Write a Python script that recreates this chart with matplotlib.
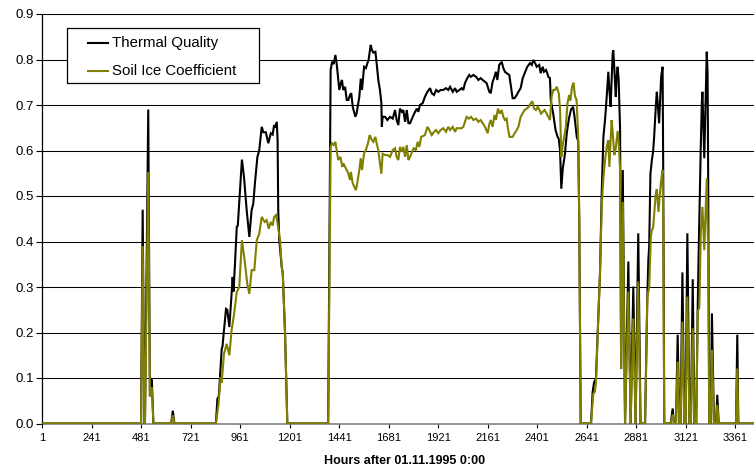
import matplotlib
matplotlib.use("Agg")
import matplotlib.pyplot as plt
from matplotlib.lines import Line2D
from matplotlib.patches import Rectangle

plt.rcParams["font.family"] = ["Liberation Sans", "DejaVu Sans"]

# Thermal quality: hour after 01.11.1995 0:00 and value
tq_hours = [
    1, 481, 489, 497, 500, 516, 524, 533, 541,
    627, 635, 643,
    844, 851, 858, 872, 876, 882, 893, 899, 909, 920, 925, 929, 936, 945, 950, 961, 970, 980,
    993, 1006, 1017, 1025, 1033, 1045, 1054, 1066, 1074, 1086, 1098, 1110, 1119, 1126, 1130,
    1139, 1143, 1146, 1151, 1163, 1168, 1179, 1190,
    1388, 1400, 1407, 1415, 1423, 1429, 1437, 1442, 1449, 1455, 1461, 1470, 1478, 1486, 1494,
    1500, 1507, 1520, 1526, 1539, 1546, 1552, 1562, 1571, 1578, 1584, 1594, 1600, 1607, 1617,
    1623, 1631, 1639, 1646, 1648, 1652, 1664, 1675, 1688, 1701, 1712, 1720, 1728, 1736, 1745,
    1752, 1761, 1769, 1777, 1785, 1798, 1809, 1818, 1825, 1833, 1846, 1857, 1869, 1882, 1890,
    1901, 1911, 1922, 1933, 1946, 1959, 1970, 1979, 1992, 2003, 2011, 2024, 2035, 2043, 2051,
    2062, 2072, 2079, 2092, 2105, 2116, 2127, 2137, 2148, 2156, 2169, 2176, 2185, 2192, 2201,
    2208, 2217, 2229, 2237, 2245, 2253, 2266, 2274, 2282, 2292, 2302, 2310, 2321, 2331, 2337,
    2347, 2353, 2360, 2366, 2375, 2382, 2391, 2399, 2411, 2418, 2428, 2434, 2444, 2450, 2455,
    2463, 2467, 2479, 2490, 2500, 2506, 2512, 2518, 2525, 2535, 2545, 2555, 2565, 2575, 2582,
    2593, 2600, 2605, 2612,
    2662, 2670, 2677, 2686, 2697, 2706, 2714, 2722, 2730, 2738, 2746, 2751, 2757, 2762, 2767,
    2770, 2775, 2782, 2786, 2791, 2796, 2803, 2808, 2816, 2827, 2843, 2854, 2867, 2878, 2891,
    2902,
    2924, 2935, 2940, 2944, 2950, 2957, 2963, 2968, 2976, 2981, 2986, 2992, 2996, 3002, 3009,
    3012, 3017,
    3048, 3058, 3064, 3074, 3082, 3090, 3096, 3105, 3114, 3120, 3129, 3139, 3146, 3155, 3163,
    3172, 3179, 3184, 3194, 3199, 3202, 3206, 3211, 3216, 3223, 3227, 3230, 3235, 3242, 3248,
    3258, 3268, 3274, 3281, 3365, 3371, 3376, 3452,
]
tq_values = [
    0, 0, 0.47, 0, 0, 0.69, 0.06, 0.10, 0,
    0, 0.028, 0,
    0, 0.054, 0.06, 0.164, 0.17, 0.20, 0.252, 0.25, 0.212, 0.285, 0.322, 0.29, 0.348, 0.432,
    0.435, 0.513, 0.580, 0.542, 0.469, 0.410, 0.469, 0.483, 0.528, 0.586, 0.601, 0.652, 0.64,
    0.64, 0.616, 0.638, 0.635, 0.656, 0.65, 0.663, 0.62, 0.469, 0.403, 0.344, 0.33, 0.198, 0,
    0, 0.777, 0.795, 0.79, 0.810, 0.792, 0.755, 0.733, 0.748, 0.755, 0.733, 0.740, 0.711,
    0.711, 0.722, 0.726, 0.696, 0.674, 0.682, 0.718, 0.758, 0.733, 0.784, 0.781, 0.792, 0.799,
    0.832, 0.821, 0.815, 0.817, 0.792, 0.755, 0.733, 0.704, 0.652, 0.674, 0.674, 0.667, 0.674,
    0.670, 0.689, 0.667, 0.656, 0.692, 0.685, 0.689, 0.663, 0.689, 0.660, 0.660, 0.674, 0.685,
    0.692, 0.685, 0.700, 0.704, 0.718, 0.729, 0.737, 0.726, 0.722, 0.733, 0.729, 0.733, 0.733,
    0.737, 0.733, 0.740, 0.729, 0.737, 0.729, 0.733, 0.737, 0.733, 0.748, 0.759, 0.766, 0.762,
    0.766, 0.762, 0.755, 0.759, 0.755, 0.751, 0.748, 0.729, 0.726, 0.751, 0.759, 0.773, 0.755,
    0.788, 0.795, 0.781, 0.773, 0.770, 0.766, 0.740, 0.715, 0.715, 0.722, 0.729, 0.737, 0.759,
    0.766, 0.777, 0.784, 0.788, 0.792, 0.788, 0.799, 0.792, 0.784, 0.788, 0.770, 0.784, 0.773,
    0.777, 0.770, 0.762, 0.759, 0.71, 0.68, 0.645, 0.63, 0.625, 0.60, 0.516, 0.56, 0.59, 0.64,
    0.67, 0.69, 0.696, 0.675, 0.63, 0.62, 0.447, 0,
    0, 0.07, 0.09, 0.10, 0.227, 0.337, 0.51, 0.63, 0.667, 0.718, 0.773, 0.733, 0.696, 0.755,
    0.814, 0.82, 0.78, 0.718, 0.76, 0.784, 0.755, 0.645, 0.12, 0.557, 0, 0.356, 0, 0.301, 0,
    0.418, 0,
    0, 0.279, 0.36, 0.389, 0.549, 0.579, 0.598, 0.63, 0.696, 0.729, 0.70, 0.66, 0.70, 0.762,
    0.784, 0.557, 0,
    0, 0.033, 0, 0, 0.195, 0, 0, 0.332, 0, 0, 0.418, 0, 0, 0.317, 0,
    0, 0.249, 0.381, 0.608, 0.704, 0.729, 0.667, 0.583, 0.682, 0.817, 0.770, 0.535, 0, 0, 0.242,
    0, 0, 0.063, 0, 0, 0.195, 0, 0,
]

# Soil ice coefficient: hour after 01.11.1995 0:00 and value
ice_hours = [
    1, 481, 489, 497, 500, 516, 524, 533, 541,
    627, 635, 643,
    844, 856, 867, 872, 883, 896, 909, 920, 932, 945, 957, 970, 983, 996, 1006, 1017, 1030,
    1042, 1054, 1066, 1080, 1090, 1100, 1110, 1119, 1126, 1135, 1141, 1155, 1163, 1168, 1179,
    1190,
    1388, 1400, 1407, 1415, 1423, 1429, 1437, 1447, 1457, 1461, 1470, 1478, 1486, 1494, 1498,
    1507, 1522, 1526, 1539, 1546, 1552, 1562, 1571, 1581, 1589, 1600, 1607, 1617, 1623, 1631,
    1639, 1646, 1652, 1664, 1675, 1688, 1701, 1712, 1720, 1728, 1736, 1745, 1752, 1761, 1769,
    1777, 1785, 1792, 1803, 1813, 1822, 1830, 1839, 1857, 1869, 1878, 1890, 1901, 1911, 1922,
    1933, 1946, 1959, 1970, 1979, 1992, 2003, 2011, 2024, 2035, 2043, 2051, 2059, 2070, 2081,
    2092, 2105, 2116, 2127, 2137, 2148, 2161, 2168, 2176, 2185, 2194, 2201, 2211, 2220, 2229,
    2237, 2245, 2253, 2258, 2267, 2282, 2292, 2302, 2310, 2321, 2330, 2340, 2350, 2360, 2370,
    2378, 2386, 2395, 2404, 2412, 2420, 2428, 2437, 2447, 2455, 2463, 2471, 2479, 2487, 2496,
    2506, 2512, 2518, 2525, 2532, 2540, 2548, 2556, 2562, 2570, 2577, 2584, 2592, 2600, 2605,
    2612,
    2662, 2673, 2681, 2686, 2697, 2706, 2714, 2722, 2730, 2738, 2746, 2751, 2757, 2762, 2767,
    2775, 2782, 2791, 2796, 2803, 2808, 2816, 2827, 2843, 2854, 2867, 2878, 2891, 2902,
    2924, 2935, 2944, 2952, 2957, 2963, 2976, 2981, 2989, 2995, 3002, 3009, 3012, 3017,
    3048, 3058, 3064, 3074, 3082, 3090, 3096, 3105, 3114, 3120, 3129, 3139, 3146, 3155, 3163,
    3172, 3179, 3187, 3194, 3202, 3206, 3211, 3218, 3223, 3230, 3235, 3242, 3248, 3258, 3268,
    3274, 3281, 3365, 3371, 3376, 3452,
]
ice_values = [
    0, 0, 0.39, 0, 0, 0.553, 0.06, 0.08, 0,
    0, 0.018, 0,
    0, 0.04, 0.102, 0.09, 0.153, 0.175, 0.150, 0.205, 0.241, 0.289, 0.300, 0.403, 0.359, 0.307,
    0.285, 0.337, 0.337, 0.403, 0.417, 0.454, 0.443, 0.447, 0.428, 0.443, 0.435, 0.454, 0.458,
    0.445, 0.403, 0.344, 0.33, 0.198, 0,
    0, 0.608, 0.616, 0.612, 0.619, 0.601, 0.579, 0.586, 0.564, 0.572, 0.564, 0.557, 0.549,
    0.535, 0.553, 0.528, 0.513, 0.520, 0.557, 0.583, 0.557, 0.594, 0.601, 0.616, 0.634, 0.623,
    0.619, 0.630, 0.616, 0.601, 0.572, 0.549, 0.593, 0.590, 0.590, 0.586, 0.601, 0.605, 0.586,
    0.579, 0.608, 0.597, 0.608, 0.586, 0.612, 0.579, 0.586, 0.594, 0.605, 0.601, 0.619, 0.608,
    0.630, 0.634, 0.652, 0.645, 0.634, 0.641, 0.645, 0.638, 0.645, 0.649, 0.641, 0.652, 0.645,
    0.652, 0.641, 0.649, 0.649, 0.649, 0.652, 0.663, 0.674, 0.670, 0.674, 0.667, 0.670, 0.663,
    0.667, 0.660, 0.652, 0.638, 0.656, 0.667, 0.652, 0.678, 0.667, 0.692, 0.681, 0.689, 0.674,
    0.667, 0.670, 0.652, 0.630, 0.630, 0.638, 0.645, 0.652, 0.674, 0.681, 0.689, 0.692, 0.696,
    0.704, 0.708, 0.692, 0.689, 0.696, 0.689, 0.681, 0.685, 0.689, 0.681, 0.674, 0.667, 0.718,
    0.733, 0.733, 0.740, 0.725, 0.69, 0.586, 0.613, 0.63, 0.652, 0.704, 0.722, 0.71, 0.740,
    0.749, 0.72, 0.711, 0.63, 0.447, 0,
    0, 0.065, 0.07, 0.09, 0.227, 0.337, 0.476, 0.54, 0.579, 0.608, 0.623, 0.564, 0.62, 0.667,
    0.64, 0.59, 0.605, 0.643, 0.62, 0.557, 0.12, 0.487, 0, 0.290, 0, 0.231, 0, 0.312, 0,
    0, 0.279, 0.30, 0.411, 0.425, 0.43, 0.505, 0.515, 0.465, 0.50, 0.535, 0.557, 0.45, 0,
    0, 0.02, 0, 0, 0.136, 0, 0, 0.224, 0, 0, 0.279, 0, 0, 0.209, 0,
    0, 0.246, 0.255, 0.418, 0.476, 0.433, 0.381, 0.476, 0.539, 0.374, 0, 0, 0.162, 0, 0,
    0.041, 0, 0, 0.121, 0, 0,
]

x_tick_labels = [1, 241, 481, 721, 961, 1201, 1441, 1681, 1921, 2161, 2401, 2641, 2881, 3121, 3361]
y_tick_values = [0.0, 0.1, 0.2, 0.3, 0.4, 0.5, 0.6, 0.7, 0.8, 0.9]
series_names = ["Thermal Quality", "Soil Ice Coefficient"]
series_colors = ["#000000", "#808000"]

W, H = 754, 466
fig = plt.figure(figsize=(W / 100, H / 100), dpi=100)


def fx(px):
    return px / W


def fy(py):
    return 1 - py / H


ax = fig.add_axes([fx(42), fy(423.5), 1 - fx(42), fy(14) - fy(423.5)])

ax.plot(tq_hours, tq_values, color=series_colors[0], lw=1.5, solid_joinstyle="miter", zorder=3)
ax.plot(ice_hours, ice_values, color=series_colors[1], lw=1.5, solid_joinstyle="miter", zorder=4)

ax.set_xlim(1, 3452)
ax.set_ylim(0, 0.9)

ax.set_yticks(y_tick_values)
ax.set_yticklabels([f"{v:.1f}" for v in y_tick_values], fontsize=9.5)
ax.set_xticks(x_tick_labels)
ax.set_xticklabels([str(v) for v in x_tick_labels], fontsize=8)

for v in y_tick_values[1:]:
    ax.axhline(v, color="#000000", lw=0.75, zorder=1)

for side in ("top", "right"):
    ax.spines[side].set_visible(False)
ax.spines["left"].set_color("#000000")
ax.spines["left"].set_linewidth(0.9)
ax.spines["bottom"].set_color("#808080")
ax.spines["bottom"].set_linewidth(1.2)
ax.spines["bottom"].set_zorder(2)

ax.tick_params(axis="y", direction="out", length=4, width=0.8, pad=2, colors="#000000")
ax.tick_params(axis="x", direction="out", length=3, width=0.8, pad=4, colors="#000000")

ax.set_xlabel("Hours after 01.11.1995 0:00", fontsize=9, fontweight="bold")
ax.xaxis.set_label_coords((405 - 42) / (W - 42), -0.078)

# legend box
fig.patches.append(Rectangle((fx(67), fy(83)), fx(259) - fx(67), fy(28) - fy(83),
                             transform=fig.transFigure, facecolor="white",
                             edgecolor="#000000", lw=0.9, zorder=10))
for name, color, row_y in zip(series_names, series_colors, [43, 71]):
    fig.lines.append(Line2D([fx(88), fx(108)], [fy(row_y), fy(row_y)], color=color, lw=1.5,
                            transform=fig.transFigure, zorder=11))
    fig.text(fx(112), fy(row_y), name, fontsize=10.8, va="center", ha="left", zorder=12)

fig.savefig("out.png", dpi=100)
